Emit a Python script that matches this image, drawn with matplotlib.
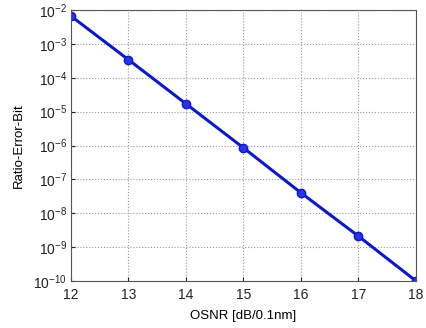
import matplotlib
matplotlib.use("Agg")
import matplotlib.pyplot as plt
from matplotlib.ticker import NullLocator, FixedLocator

plt.rcParams['font.family'] = ['Liberation Sans', 'DejaVu Sans']
plt.rcParams['mathtext.fontset'] = 'custom'
plt.rcParams['mathtext.rm'] = 'Liberation Sans'

osnr = [12, 13, 14, 15, 16, 17, 18]
ber = [6.6e-3, 3.4e-4, 1.7e-5, 8.5e-7, 4.0e-8, 2.1e-9, 1.0e-10]
yticks = [10.0**e for e in range(-10, -1)]
ytick_labels = [r'$\mathregular{10^{%d}}$' % e for e in range(-10, -1)]

fig = plt.figure(figsize=(4.27, 3.28), dpi=100)
ax = fig.add_axes([71/427, 1 - 281/328, (416-71)/427, (281-10)/328])
ax.plot(osnr, ber, color='#0c18cc', lw=2.2, marker='o', ms=6,
        markerfacecolor='#2a34e6', markeredgecolor='#0c18cc')
ax.set_yscale('log')
ax.set_xlim(12, 18)
ax.set_ylim(1e-10, 1e-2)
ax.set_xticks(osnr)
ax.yaxis.set_major_locator(FixedLocator(yticks))
ax.set_yticklabels(ytick_labels)
ax.yaxis.set_minor_locator(NullLocator())
ax.grid(True, which='major', linestyle=':', color='#999999', lw=0.8)
ax.tick_params(direction='in', length=3, labelsize=10, colors='#222222')
ax.tick_params(axis='x', pad=5)
ax.tick_params(axis='y', pad=3)
for s in ax.spines.values():
    s.set_color('#555555')
    s.set_linewidth(0.8)
ax.set_xlabel('OSNR [dB/0.1nm]', fontsize=9.5, labelpad=6)
ax.set_ylabel('Ratio-Error-Bit', fontsize=9.5, labelpad=6)
fig.savefig('out.png', dpi=100)
